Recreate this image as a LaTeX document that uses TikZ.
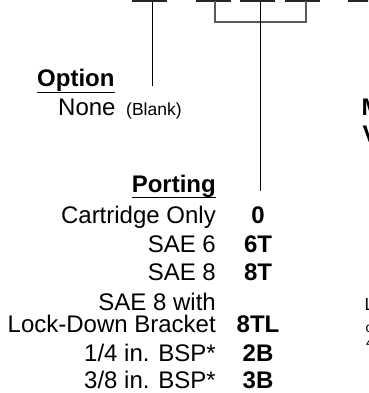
\documentclass[tikz,border=0pt]{standalone}
\usepackage{fontspec}
\setmainfont{Liberation Sans}
\begin{document}
\begin{tikzpicture}[x=1pt,y=-1pt,
  lbl/.style={inner sep=0pt,font=\fontsize{24}{24}\selectfont},
  code/.style={inner sep=0pt,anchor=base,font=\fontsize{24}{24}\selectfont\bfseries},
  head/.style={inner sep=0pt,font=\fontsize{24}{24}\selectfont\bfseries},
  small/.style={inner sep=0pt,font=\fontsize{17.5}{17.5}\selectfont},
  tiny/.style={inner sep=0pt,font=\fontsize{14}{14}\selectfont},
  seg/.style={line width=1.6pt,black!85},
  lead/.style={line width=0.9pt,black},
  brk/.style={line width=1.4pt,black!65}]
\useasboundingbox (0,0) rectangle (368,393);
\clip (0,0) rectangle (368,393);
% top segments
\coordinate (s1a) at (132,0.8); \coordinate (s1b) at (167,0.8);
\coordinate (s2a) at (196,0.8); \coordinate (s2b) at (231,0.8);
\coordinate (s3a) at (240,0.8); \coordinate (s3b) at (275,0.8);
\coordinate (s4a) at (285,0.8); \coordinate (s4b) at (320,0.8);
\coordinate (s5a) at (348,0.8); \coordinate (s5b) at (372,0.8);
\draw[seg] (s1a) -- (s1b);
\draw[seg] (s2a) -- (s2b);
\draw[seg] (s3a) -- (s3b);
\draw[seg] (s4a) -- (s4b);
\draw[seg] (s5a) -- (s5b);
% option leader
\coordinate (o1) at (152,1.5); \coordinate (o2) at (152,86);
\draw[lead] (o1) -- (o2);
% bracket
\coordinate (b1) at (215,1.5); \coordinate (b2) at (215,22);
\coordinate (b3) at (306,22); \coordinate (b4) at (306,1.5);
\draw[brk] (b1) -- (b2) -- (b3) -- (b4);
% porting leader
\coordinate (p1) at (260,1.5); \coordinate (p2) at (260,191);
\draw[lead] (p1) -- (p2);
% Option
\node[head,anchor=base west] (opt) at (37,87) {Option};
\draw[line width=1.4pt] ([yshift=-5.5pt]opt.base west) -- ([yshift=-5.5pt]opt.base east);
\node[lbl,anchor=base west] (none) at (58,116) {None};
\node[small,anchor=base west] (blank) at (126,116) {(Blank)};
% Porting
\node[head,anchor=base east] (port) at (216,192) {Porting};
\draw[line width=1.4pt] ([yshift=-5.5pt]port.base west) -- ([yshift=-5.5pt]port.base east);
\node[lbl,anchor=base east] (r1) at (216,223) {Cartridge Only};
\node[lbl,anchor=base east] (r2) at (216,252) {SAE 6};
\node[lbl,anchor=base east] (r3) at (216,280) {SAE 8};
\node[lbl,anchor=base east] (r4a) at (216,310) {SAE 8 with};
\node[lbl,anchor=base east] (r4) at (216,332) {Lock-Down Bracket};
\node[lbl,anchor=base east] (r5) at (216,361) {1/4 in. BSP*};
\node[lbl,anchor=base east] (r6) at (216,388.5) {3/8 in. BSP*};
\node[code] (c1) at (258,223) {0};
\node[code] (c2) at (258,252) {6T};
\node[code] (c3) at (258,280) {8T};
\node[code] (c4) at (258,332) {8TL};
\node[code] (c5) at (258,361) {2B};
\node[code] (c6) at (258,388.5) {3B};
% cut-off text at the right edge
\node[head,anchor=base west] (m1) at (361.5,115) {M};
\node[head,anchor=base west] (m2) at (362.5,142) {V};
\node[small,anchor=base west] (m3) at (364.5,310) {L};
\node[tiny,anchor=base west] (m4) at (365.5,332) {c};
\node[tiny,anchor=base west] (m5) at (365.8,347) {4};
\end{tikzpicture}
\end{document}
